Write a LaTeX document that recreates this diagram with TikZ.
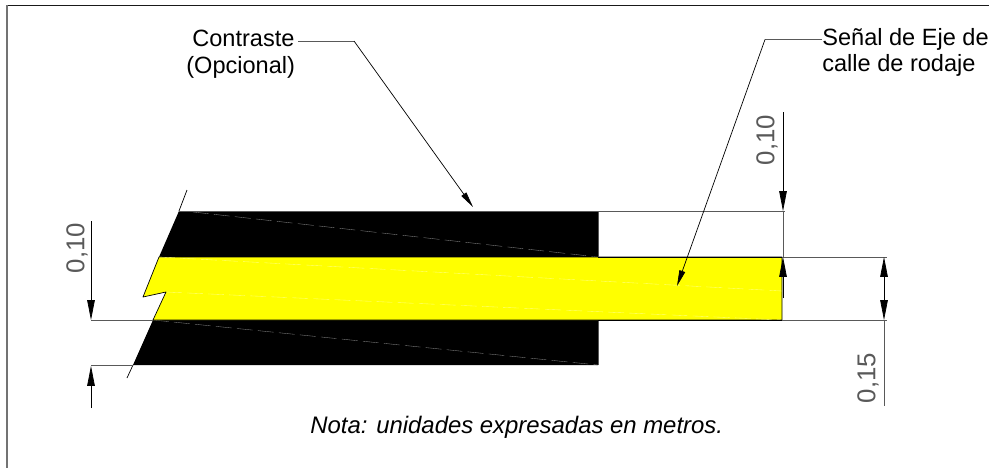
\documentclass[tikz,border=0pt]{standalone}
\usepackage{fontspec}
\setmainfont{Liberation Sans}
\usetikzlibrary{arrows.meta}
\definecolor{signyellow}{RGB}{255,255,0}
\tikzset{
	dimline/.style={line width=0.4pt,draw=black!65},
	leader/.style={line width=0.4pt,draw=black},
	dimtip/.style={-{Triangle[length=11.3pt,width=4.3pt]}},
	leadtip/.style={-{Triangle[length=9pt,width=3.4pt]}},
	labeltext/.style={font=\fontsize{13.4}{14.8}\selectfont,inner sep=0pt,align=left,anchor=base west},
	dimtext/.style={font=\fontsize{14.7}{15}\selectfont,inner sep=0pt,rotate=90,text=black!65},
	seam/.style={line width=0.2pt,dash pattern=on 9pt off 3pt}
}
\begin{document}
\begin{tikzpicture}[x=0.2mm,y=-0.2mm,line join=round]
	\useasboundingbox (0,0) rectangle (989,468);
	% frame
	\draw[line width=0.5pt,black!90] (7,5)--(989,5);
	\draw[line width=0.8pt,black!55] (7,5)--(7,468);
	% contrast bands
	\fill (179,211)--(598,211)--(598,257)--(159,257)--cycle;
	\fill (153,320)--(598,320)--(598,365)--(133,365)--cycle;
	\draw[seam,white!50!black] (193,212)--(598,257) (153,320)--(598,365);
	\fill[signyellow,draw=black,line width=0.4pt] (159,257)--(782,257)--(782,320)--(153,320)--(166,292)--(143,297)--cycle;
	\draw[seam,white!50!signyellow] (159,257)--(782,291) (166,292)--(782,320);
	% edge
	\draw[leader] (187,190)--(179,211) (133,365)--(127,378);
	\draw[dimline] (598,211)--(598,257) (598,320)--(598,365);
	\draw[dimline] (179,211)--(785,211) (782,257)--(887,257) (782,320)--(887,320) (91,320)--(153,320) (91,365)--(133,365);
	\draw[leader] (598,257)--(782,257) (598,320)--(782,320);
	\draw[dimline] (783,211)--(783,257);
	% dimensions
	\coordinate (leftTop) at (91,221);
	\coordinate (leftIn) at (91,320);
	\coordinate (leftOut) at (91,366);
	\coordinate (leftEnd) at (91,408);
	\draw[leader,dimtip] (leftTop)--(leftIn);
	\draw[leader,dimtip] (leftEnd)--(leftOut);
	\coordinate (topStart) at (783,112);
	\coordinate (topEnd) at (783,211);
	\coordinate (midStart) at (783,298);
	\coordinate (midEnd) at (783,257);
	\draw[leader,dimtip] (topStart)--(topEnd);
	\draw[leader,dimtip] (midStart)--(midEnd);
	\coordinate (rightTop) at (884,257);
	\coordinate (rightBot) at (884,320);
	\coordinate (rightMid) at (884,289);
	\coordinate (rightEnd) at (884,406);
	\draw[leader,dimtip] (rightMid)--(rightTop);
	\draw[leader,dimtip] (rightMid)--(rightBot);
	\draw[dimline] (rightBot)--(rightEnd);
	\node[dimtext] (dimA) at (77,248) {0,10};
	\node[dimtext] (dimB) at (767,140) {0,10};
	\node[dimtext] (dimC) at (868,378) {0,15};
	% labels
	\node[labeltext] (contraste) at (192,46) {Contraste};
	\node[labeltext] (opcional) at (186,73) {(Opcional)};
	\node[labeltext] (senal) at (822,45) {Señal de Eje de};
	\node[labeltext] (calle) at (822,71) {calle de rodaje};
	\node[labeltext,font=\fontsize{13.6}{15}\selectfont\itshape] (nota) at (310,433) {Nota: unidades expresadas en metros.};
	\coordinate (contrasteBend) at (354,41);
	\coordinate (contrasteTip) at (473,207);
	\coordinate (senalBend) at (765,39.5);
	\coordinate (senalTip) at (677,286);
	\draw[dimline] ([xshift=2pt]contraste.east |- contrasteBend) -- (contrasteBend);
	\draw[leader,leadtip] (contrasteBend)--(contrasteTip);
	\draw[dimline] (senal.west |- senalBend) -- (senalBend);
	\draw[leader,leadtip] (senalBend)--(senalTip);
\end{tikzpicture}
\end{document}
